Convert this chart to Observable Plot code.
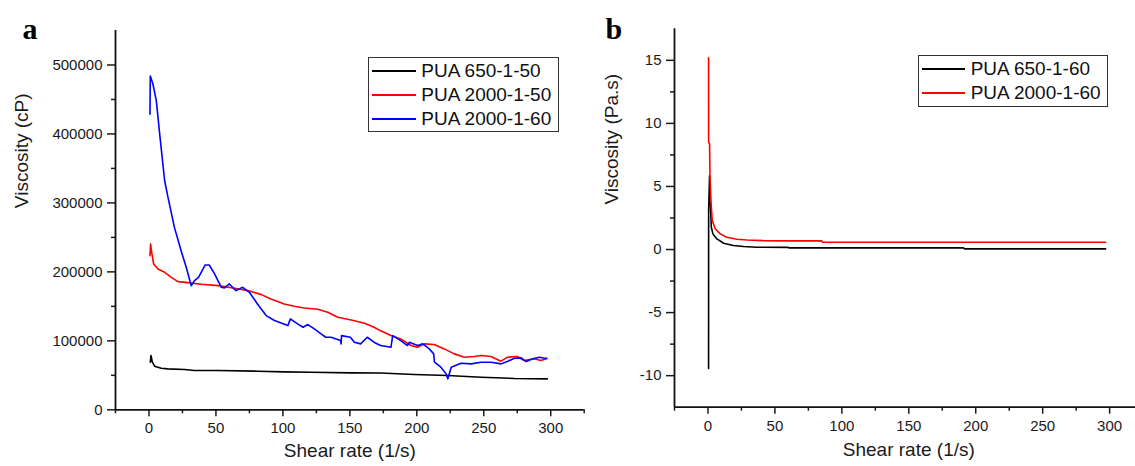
<!DOCTYPE html>
<html>
<head>
<meta charset="utf-8">
<script src="https://cdn.jsdelivr.net/npm/d3@7"></script>
<script src="https://cdn.jsdelivr.net/npm/@observablehq/plot@0.6"></script>
<style>
html, body { margin: 0; padding: 0; background: #fff; overflow: hidden; }
#wrap { position: relative; width: 1135px; height: 466px; overflow: hidden; font-family: "Liberation Sans", Arial, sans-serif; }
.panel { position: absolute; top: 0; }
.panel svg { max-width: none !important; overflow: visible; }
.legend { position: absolute; border: 1.3px solid #333; background: #fff; box-sizing: border-box; }
.legend .row { position: absolute; left: 0; height: 24px; display: flex; align-items: center; white-space: nowrap; }
.legend .swatch { margin-left: 3px; width: 43.5px; height: 0; border-top: 2px solid #000; }
.legend .lab { margin-left: 5.5px; font-size: 19px; line-height: 24px; color: #111; }
</style>
</head>
<body>
<div id="wrap"></div>
<script>
// ---------- Data ----------
// Panel a : viscosity (cP) vs shear rate (1/s)
const seriesA = ["PUA 650-1-50", "PUA 2000-1-50", "PUA 2000-1-60"];
const colorsA = ["#000000", "#ff0000", "#0000ff"];

const pua650_1_50 = [
  [1, 69000], [1.5, 78700], [2.5, 69000], [4.2, 63200], [9.2, 60300], [14, 59400],
  [26.6, 58400], [34, 57000], [51, 57000], [81, 56000], [101, 55000], [121, 54500],
  [151, 53600], [173, 53300], [198, 51200], [223, 49700], [248, 47300], [273, 45400], [297.5, 44900]
];
const pua2000_1_50 = [
  [0.75, 223500], [1.2, 240400], [2.2, 226000], [3.5, 211400], [6.7, 204200], [11.7, 199400],
  [16.7, 192100], [21.6, 185800], [29, 184400], [39, 182000], [51.5, 180000], [64, 176200],
  [74, 172800], [84, 167000], [91, 160700], [101, 153500], [108.6, 150100], [116, 147700],
  [126, 145800], [133.5, 141400], [141, 134200], [151, 130300], [161, 125500], [168, 119700],
  [173, 114500], [180.7, 107600], [188, 102800], [195.7, 93200], [200.6, 90700], [205.6, 95600],
  [213, 94600], [220.5, 88300], [228, 81100], [235.5, 76300], [243, 77200], [248, 78700],
  [255.4, 77200], [262.8, 70500], [267.8, 76300], [275, 77200], [280, 71400], [287.6, 73900],
  [292.5, 71400], [297, 73900]
];
const pua2000_1_60 = [
  [0.75, 428600], [1, 484100], [3, 472100], [5.5, 448000], [8, 399700], [11.7, 332100],
  [14.2, 308000], [19, 264500], [24, 230700], [27.8, 206600], [31.6, 180000], [34, 187300],
  [37, 192100], [42, 210000], [45, 210000], [49, 197000], [54, 177600], [56.4, 176700],
  [60, 182500], [65, 172800], [70, 177600], [75, 170400], [81, 153500], [87.5, 136600],
  [93.7, 129400], [98.7, 126000], [103.7, 122100], [105.6, 131800], [111, 124500], [115, 119700],
  [118.6, 123600], [123.5, 117300], [128.5, 110100], [132, 105200], [136, 105200], [143, 100400],
  [143.5, 95600], [143.8, 107600], [150.4, 105200], [153.4, 98000], [158, 95600], [163, 105200],
  [168, 98000], [173, 93200], [180.7, 90700], [182, 107600], [188, 100400], [193, 93200],
  [194.5, 98000], [200.6, 93200], [204.4, 95600], [209.4, 88300], [212.6, 81100], [213.2, 69000],
  [218, 61800], [221.9, 52100], [223.2, 44900], [225.7, 61800], [233, 67600], [240.6, 66600],
  [248, 69000], [255.5, 69000], [263, 66600], [268, 70500], [273, 74800], [278, 75300],
  [281.7, 70000], [286.7, 73900], [291.7, 76300], [295.4, 74800], [297, 74800]
];

// Panel b : viscosity (Pa.s) vs shear rate (1/s)
const seriesB = ["PUA 650-1-60", "PUA 2000-1-60"];
const colorsB = ["#000000", "#ff0000"];
const pua650_1_60 = [
  [0.45, -9.44], [0.5, 3.2], [1.2, 5.85], [1.7, 3.9], [2.5, 1.77], [3.7, 1.24], [6.7, 0.84],
  [11.7, 0.5], [19, 0.32], [26.5, 0.24], [36.5, 0.18], [60, 0.17], [60.5, 0.13], [191, 0.13],
  [191.5, 0.05], [297, 0.05]
];
const pua2000_1_60b = [
  [0.45, 15.2], [0.5, 8.5], [1.2, 8.4], [1.5, 5.85], [2.2, 3.9], [3.2, 2.3], [5.5, 1.63],
  [9.2, 1.24], [14, 0.98], [21.6, 0.82], [29, 0.76], [41.4, 0.71], [53.8, 0.69], [85, 0.69],
  [85.5, 0.58], [297, 0.58]
];

// Axis ticks
const xMajor = [0, 50, 100, 150, 200, 250, 300];
const xMinor = [-25, 25, 75, 125, 175, 225, 275, 325];
const yMajorA = [0, 100000, 200000, 300000, 400000, 500000];
const yMinorA = [50000, 150000, 250000, 350000, 450000];
const yMajorB = [-10, -5, 0, 5, 10, 15];
const yMinorB = [-7.5, -2.5, 2.5, 7.5, 12.5];

// ---------- Drawing ----------
const FONT = "'Liberation Sans', Arial, sans-serif";
const SERIF = "'Liberation Serif', 'Times New Roman', serif";
const fmt = d => String(d);

function panel({xDomain, yDomain, yMajor, yMinor, lines, yLabel, letter, width, margins, yLabDx, yLabDy, xLabDy, letterDx, letterDy}) {
  return Plot.plot({
    width, height: 466,
    marginLeft: margins[0], marginRight: margins[1], marginTop: margins[2], marginBottom: margins[3],
    x: {domain: xDomain},
    y: {domain: yDomain},
    style: {fontFamily: FONT, fontSize: "15px", color: "#1a1a1a", background: "transparent", overflow: "visible"},
    marks: [
      Plot.axisX({ticks: xMajor, tickSize: 7, tickPadding: 6, tickFormat: fmt, label: null, strokeWidth: 1.5, fontSize: 15}),
      Plot.axisX({ticks: xMinor, tickSize: 4, text: null, label: null, strokeWidth: 1.5}),
      Plot.axisY({ticks: yMajor, tickSize: 8, tickPadding: 5, tickFormat: fmt, label: null, strokeWidth: 1.5, fontSize: 15}),
      Plot.axisY({ticks: yMinor, tickSize: 4, text: null, label: null, strokeWidth: 1.5}),
      Plot.ruleX([xDomain[0]], {strokeWidth: 1.8, stroke: "#111"}),
      Plot.ruleY([yDomain[0]], {strokeWidth: 1.8, stroke: "#111"}),
      ...lines.map(([data, color]) => Plot.line(data, {x: d => d[0], y: d => d[1], stroke: color, strokeWidth: 1.6})),
      Plot.text(["Shear rate (1/s)"], {frameAnchor: "bottom", dy: xLabDy, fontSize: 19, fill: "#1a1a1a"}),
      Plot.text([yLabel], {frameAnchor: "left", rotate: -90, dx: yLabDx, dy: yLabDy, fontSize: 19, fill: "#1a1a1a"}),
      Plot.text([letter], {frameAnchor: "top-left", textAnchor: "middle", lineAnchor: "bottom", dx: letterDx, dy: letterDy,
        fontFamily: SERIF, fontWeight: "bold", fontSize: 30, fill: "#000"})
    ]
  });
}

const wrap = document.getElementById("wrap");

const plotA = panel({
  xDomain: [-25, 325], yDomain: [0, 550000], yMajor: yMajorA, yMinor: yMinorA,
  lines: [[pua650_1_50, colorsA[0]], [pua2000_1_50, colorsA[1]], [pua2000_1_60, colorsA[2]]],
  yLabel: "Viscosity (cP)", letter: "a", width: 600, margins: [115, 16.3, 30, 56.7],
  yLabDx: -93.3, yLabDy: -12, xLabDy: 47.4, letterDx: -85.5, letterDy: 8.3
});
const plotB = panel({
  xDomain: [-25, 325], yDomain: [-12.5, 17.5], yMajor: yMajorB, yMinor: yMinorB,
  lines: [[pua650_1_60, colorsB[0]], [pua2000_1_60b, colorsB[1]]],
  yLabel: "Viscosity (Pa.s)", letter: "b", width: 575, margins: [94, 12.4, 28.3, 59.3],
  yLabDx: -62.3, yLabDy: -13.5, xLabDy: 48.3, letterDx: -60.7, letterDy: 10
});

function addPanel(node, left) {
  const d = document.createElement("div");
  d.className = "panel";
  d.style.left = left + "px";
  d.appendChild(node);
  wrap.appendChild(d);
}
addPanel(plotA, 0);
addPanel(plotB, 580);

function addLegend(names, colors, left, top, w) {
  const box = document.createElement("div");
  box.className = "legend";
  box.style.left = left + "px";
  box.style.top = top + "px";
  box.style.width = w + "px";
  box.style.height = (names.length * 23.9 + 4) + "px";
  names.forEach((n, i) => {
    const row = document.createElement("div");
    row.className = "row";
    row.style.top = (13.3 + i * 23.9 - 12) + "px";
    const sw = document.createElement("span");
    sw.className = "swatch";
    sw.style.borderTopColor = colors[i];
    const lab = document.createElement("span");
    lab.className = "lab";
    lab.textContent = n;
    row.appendChild(sw);
    row.appendChild(lab);
    box.appendChild(row);
  });
  wrap.appendChild(box);
}
addLegend(seriesA, colorsA, 368.3, 56.7, 190.7);
addLegend(seriesB, colorsB, 917.7, 55, 190.6);
</script>
</body>
</html>
